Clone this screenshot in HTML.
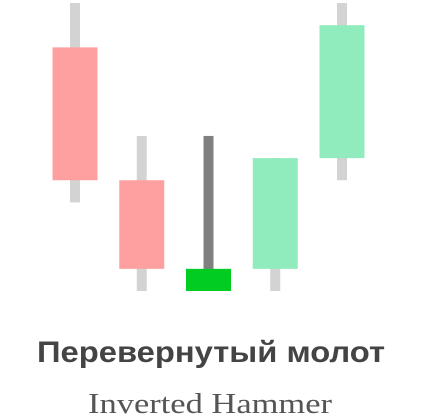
<!DOCTYPE html>
<html><head><meta charset="utf-8"><style>
body{margin:0;background:#fff;width:423px;height:420px;overflow:hidden}
svg{display:block}
</style></head><body>
<svg width="423" height="420">
<g id="candles"></g>
<text x="211" y="362" text-anchor="middle" font-family="Liberation Sans, DejaVu Sans, sans-serif" font-weight="bold" font-size="30" fill="#444" textLength="348" lengthAdjust="spacingAndGlyphs">Перевернутый молот</text>
<text x="210" y="413" text-anchor="middle" font-family="Liberation Serif, serif" font-size="28" fill="#555" textLength="244" lengthAdjust="spacingAndGlyphs">Inverted Hammer</text>
</svg>
<script>
const opens=[11,5,0,1,6];
const highs=[13,7,7,6,13];
const lows=[4,0,0,0,5];
const closes=[5,1,1,6,12];
const y=v=>291-v*22.15;
const cx=i=>75+i*66.75;
const g=document.getElementById('candles');
const ns='http://www.w3.org/2000/svg';
for(let i=0;i<opens.length;i++){
  const up=closes[i]>opens[i];
  const hammer=i===2;
  const w=document.createElementNS(ns,'rect');
  
  
  w.setAttribute('x',cx(i)-5);w.setAttribute('width',10);
  w.setAttribute('y',y(highs[i]));w.setAttribute('height',y(lows[i])-y(highs[i]));
  w.setAttribute('fill',hammer?'#808080':'#d3d3d3');
  g.appendChild(w);
  const b=document.createElementNS(ns,'rect');
  
  
  const t=Math.max(opens[i],closes[i]),bo=Math.min(opens[i],closes[i]);
  b.setAttribute('x',cx(i)-22.5);b.setAttribute('width',45);
  b.setAttribute('y',y(t));b.setAttribute('height',y(bo)-y(t));
  b.setAttribute('fill',hammer?'#00cc22':(up?'#90ecbc':'#ffa0a0'));
  g.appendChild(b);
}
</script>
</body></html>
